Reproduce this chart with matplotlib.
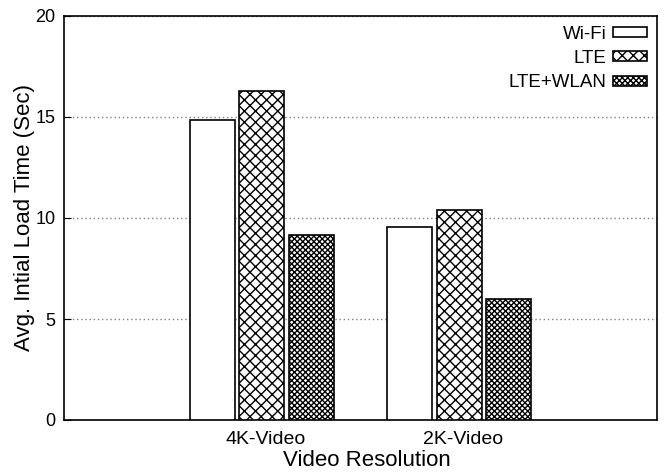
import numpy as np
import matplotlib.pyplot as plt
from matplotlib.transforms import ScaledTranslation

plt.rcParams['font.family'] = ['Liberation Sans', 'DejaVu Sans']
plt.rcParams['hatch.linewidth'] = 1.0

categories = ["4K-Video", "2K-Video"]
series = ["Wi-Fi", "LTE", "LTE+WLAN"]
wifi = [14.85, 9.55]
lte = [16.3, 10.42]
lte_wlan = [9.14, 5.97]

values = [wifi, lte, lte_wlan]
hatches = ["", "xxx", "xxxxxx"]

fig = plt.figure(figsize=(6.67, 4.74), dpi=100)
ax = fig.add_axes([64 / 667, 1 - 420 / 474, 593 / 667, 404 / 474])

x = np.arange(len(categories))
width = 0.227
offsets = [-0.25, 0, 0.25]
for vals, name, h, off in zip(values, series, hatches, offsets):
    ax.bar(x + off, vals, width, label=name, facecolor="white",
           edgecolor="black", hatch=h, linewidth=1.2, zorder=3)

ax.set_xlim(-1, 2)
ax.set_ylim(0, 20)
ax.set_xticks(x)
ax.set_xticklabels(categories, fontsize=14)
ax.set_yticks([0, 5, 10, 15, 20])
ax.tick_params(axis="y", labelsize=13, direction="in", length=5, pad=6)
ax.tick_params(axis="x", length=0, pad=8)
ax.yaxis.grid(True, linestyle=(0, (1, 2)), color="gray", linewidth=1)
ax.set_axisbelow(True)
for s in ax.spines.values():
    s.set_linewidth(1.2)

# gnuplot puts the category labels a few pixels right of the bar groups
shift = ScaledTranslation(4 / 100, 0, fig.dpi_scale_trans)
for lbl in ax.get_xticklabels():
    lbl.set_transform(lbl.get_transform() + shift)

ax.set_xlabel("Video Resolution", fontsize=16)
ax.xaxis.set_label_coords(0.51, -0.075)
ax.set_ylabel("Avg. Intial Load Time (Sec)", fontsize=16)
ax.yaxis.set_label_coords(-0.049, 0.5)

ax.legend(loc="upper right", bbox_to_anchor=(1 - 10 / 593, 1 - 10 / 404),
          frameon=False, markerfirst=False, fontsize=13.5,
          handlelength=1.8, handleheight=0.45, labelspacing=0.38,
          handletextpad=0.37, borderpad=0, borderaxespad=0)

fig.savefig("out.png", dpi=100)
